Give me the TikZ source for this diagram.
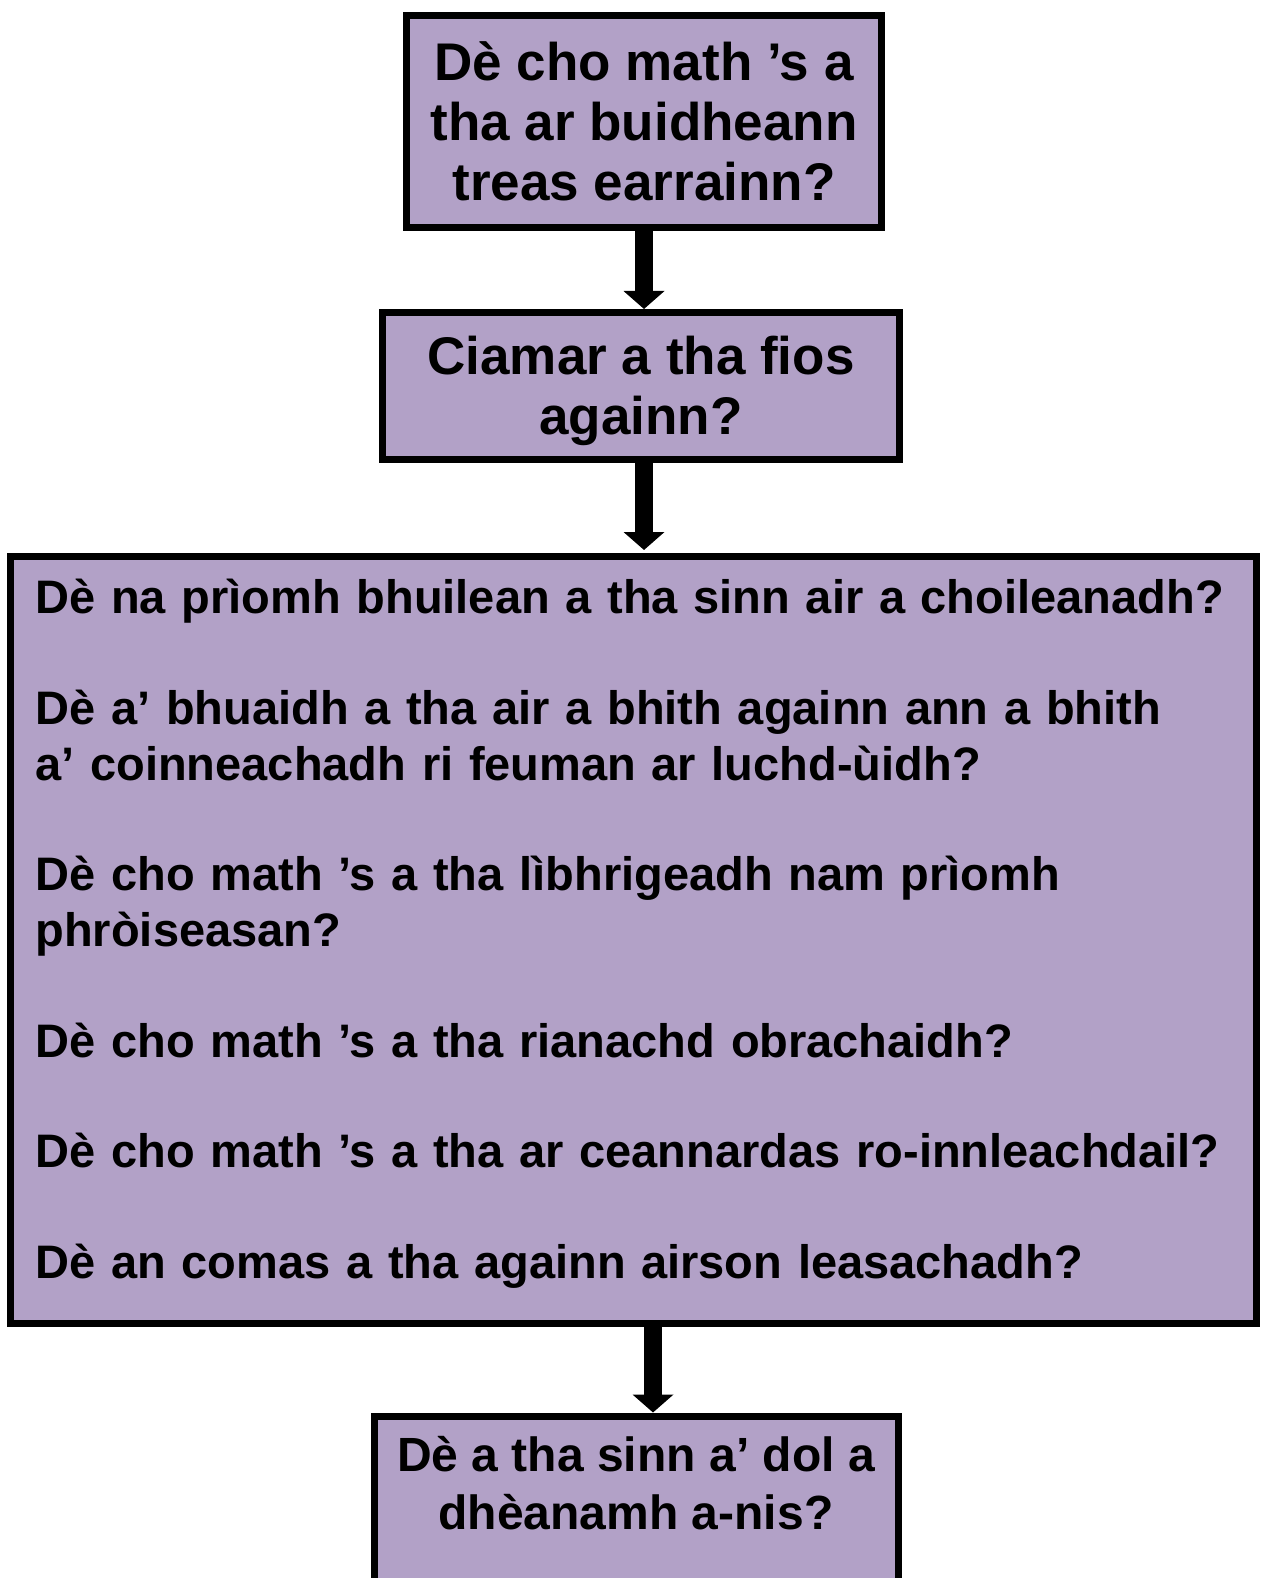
\documentclass[tikz,border=0pt]{standalone}
\usepackage{fontspec}
\setmainfont{Liberation Sans}
\usetikzlibrary{arrows.meta}
\definecolor{boxfill}{HTML}{B2A1C7}
\begin{document}
\begin{tikzpicture}[x=1pt,y=-1pt,
  box/.style={draw=black, line width=7pt, fill=boxfill, inner sep=0pt, align=center,
    font=\bfseries\fontsize{53}{60}\selectfont},
  boxtext/.style={inner sep=0pt, align=center, font=\bfseries\fontsize{48}{58}\selectfont},
  bigbox/.style={draw=black, line width=7pt, fill=boxfill, inner xsep=25pt, inner ysep=0pt,
    align=left, text width=1196pt, font=\bfseries\fontsize{47}{55.4}\selectfont},
  arr/.style={line width=18pt, -{Triangle[width=40pt,length=18pt]}}]
\clip (0,0) rectangle (1260,1578);
\node[box, minimum width=475pt, minimum height=212pt] (b1) at (644,121.5)
  {Dè cho math ’s a\\tha ar buidheann\\treas earrainn?};
\node[box, minimum width=517pt, minimum height=147pt] (b2) at (641,386)
  {\rule{0pt}{48pt}Ciamar a tha fios\\againn?};
\node[bigbox, minimum height=767pt] (b3) at (633.5,940)
  {Dè na prìomh bhuilean a tha sinn air a choileanadh?\\[55.4pt]
   Dè a’ bhuaidh a tha air a bhith againn ann a bhith\\
   a’ coinneachadh ri feuman ar luchd-ùidh?\\[55.4pt]
   Dè cho math ’s a tha lìbhrigeadh nam prìomh\\
   phròiseasan?\\[55.4pt]
   Dè cho math ’s a tha rianachd obrachaidh?\\[55.4pt]
   Dè cho math ’s a tha ar ceannardas ro-innleachdail?\\[55.4pt]
   Dè an comas a tha againn airson leasachadh?\rule[-22pt]{0pt}{1pt}};
\node[box, minimum width=524pt, minimum height=300pt, anchor=north] (b4) at (636,1412.5) {};
\node[boxtext] (b4t) at (636,1483) {Dè a tha sinn a’ dol a\\dhèanamh a-nis?};
\coordinate (a3) at ([xshift=19.5pt]b3.south);
\draw[arr] (b1.south) -- (b2.north -| b1.south);
\draw[arr, shorten >=3pt] (b2.south -| b1.south) -- (b3.north -| b1.south);
\draw[arr] (a3) -- (b4.north -| a3);
\end{tikzpicture}
\end{document}
